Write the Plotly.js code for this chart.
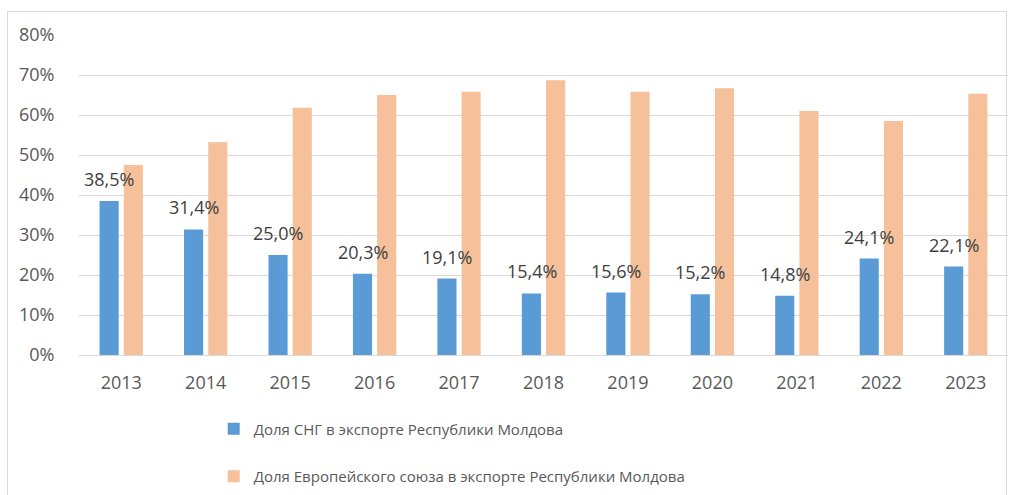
<!DOCTYPE html>
<html>
<head>
<meta charset="utf-8">
<script src="https://cdn.plot.ly/plotly-3.0.1.min.js"></script>
<style>
  html, body { margin: 0; padding: 0; background: #fff; }
  #wrap { position: relative; width: 1011px; height: 495px; overflow: hidden; }
  #frame { position: absolute; left: 7px; top: 11px; width: 1000px; height: 500px; border: 1px solid #d9d9d9; box-sizing: border-box; pointer-events: none; }
  #chart { position: absolute; left: 0; top: 0; width: 1011px; height: 540px; }
</style>
</head>
<body>
<div id="wrap">
  <div id="chart"></div>
  <div id="frame"></div>
</div>
<script>
const years = ['2013','2014','2015','2016','2017','2018','2019','2020','2021','2022','2023'];
const cisShare = [38.5, 31.4, 25.0, 20.3, 19.1, 15.4, 15.6, 15.2, 14.8, 24.1, 22.1];
const euShare  = [47.5, 53.2, 61.8, 65.0, 65.8, 68.7, 65.8, 66.7, 61.0, 58.5, 65.3];
const cisName = 'Доля СНГ в экспорте Республики Молдова';
const euName  = 'Доля Европейского союза в экспорте Республики Молдова';
const yTicks = [0, 10, 20, 30, 40, 50, 60, 70, 80];

const fmt = v => v.toFixed(1).replace('.', ',') + '%';

const traces = [
  { type: 'bar', x: years, y: cisShare, name: cisName, legendgroup: 'a',
    marker: { color: '#5B9BD5' } },
  { type: 'bar', x: years, y: euShare, name: euName, legendgroup: 'b',
    marker: { color: '#F5C09A' } }
];

// category index positions of each year on the category axis
const annotations = years.map((yr, i) => ({
  x: i, y: cisShare[i], xref: 'x', yref: 'y',
  text: fmt(cisShare[i]), showarrow: false,
  xanchor: 'center', yanchor: 'middle', xshift: -12, yshift: 22,
  font: { family: 'Open Sans, sans-serif', size: 18, color: '#404040' }
}));

const layout = {
  width: 1011, height: 540,
  margin: { l: 79, r: 3, t: 35, b: 185, pad: 0 },
  paper_bgcolor: 'rgba(0,0,0,0)', plot_bgcolor: '#fff',
  barmode: 'group', bargap: 0.427, bargroupgap: 0.21,
  font: { family: 'Open Sans, sans-serif', size: 18, color: '#595959' },
  xaxis: { type: 'category', showgrid: false, zeroline: false, showline: false,
           range: [-0.5, years.length - 0.5],
           ticks: 'outside', ticklen: 11, tickcolor: 'rgba(0,0,0,0)',
           tickfont: { size: 18, color: '#595959' } },
  yaxis: { range: [0, 80], tickmode: 'array', tickvals: yTicks,
           ticktext: yTicks.map(v => v + '%'), showgrid: true,
           gridcolor: '#d9d9d9', gridwidth: 1, zeroline: true, zerolinecolor: '#d9d9d9',
           zerolinewidth: 1, showline: false, ticks: 'outside', ticklen: 20,
           tickcolor: 'rgba(0,0,0,0)', tickfont: { size: 18, color: '#595959' } },
  showlegend: true,
  legend: { orientation: 'v', x: 0.145, xanchor: 'left', y: -0.18, yanchor: 'top',
            tracegroupgap: 25, font: { size: 15, color: '#595959' },
            bgcolor: 'rgba(0,0,0,0)' },
  annotations: annotations
};

Plotly.newPlot('chart', traces, layout, { staticPlot: true, displayModeBar: false });
</script>
</body>
</html>
